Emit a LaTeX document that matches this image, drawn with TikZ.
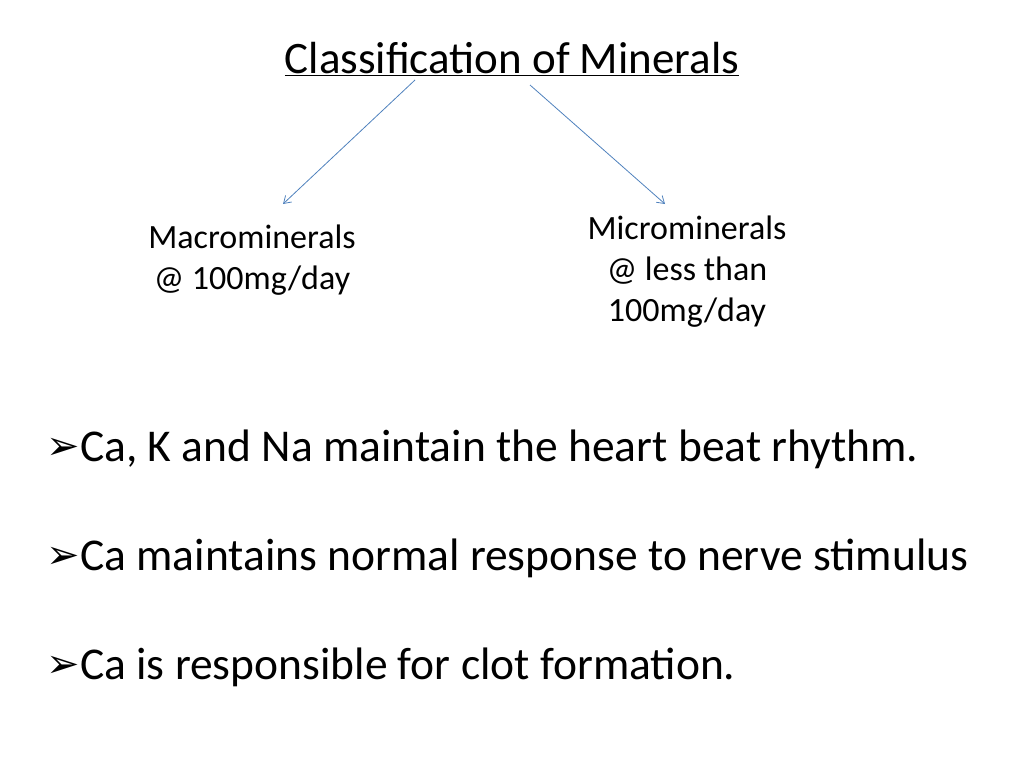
\documentclass[tikz,border=0pt]{standalone}
\usepackage{fontspec}
\setmainfont{Carlito}
\newfontfamily\dejavu{DejaVu Sans}
\usetikzlibrary{arrows.meta}
\begin{document}
\begin{tikzpicture}[x=1pt,y=-1pt,
  title/.style={font=\fontsize{45}{50}\selectfont,inner sep=0pt},
  sub/.style={font=\fontsize{34}{41}\selectfont,align=center,inner sep=0pt},
  bul/.style={font=\fontsize{45.5}{52}\selectfont,anchor=base west,inner sep=0pt},
  conn/.style={draw={rgb,255:red,79;green,129;blue,189},line width=0.8pt,-{Straight Barb[length=7pt,width=9pt]}}]
\useasboundingbox (0,0) rectangle (1024,768);
\node[title,anchor=base] (t) at (512,73) {\underline{Classification of Minerals}};
\coordinate (a1) at (415,80);
\coordinate (b1) at (530,85);
\node[sub] (mac) at (252,260) {Macrominerals\\ @ 100mg/day};
\node[sub] (mic) at (687,272) {Microminerals\\@ less than\\100mg/day};
\coordinate (a2) at (283,204);
\coordinate (b2) at (665,204);
\draw[conn] (a1) -- (a2);
\draw[conn] (b1) -- (b2);
\node[bul] (p1) at (80,461) {Ca, K and Na maintain the heart beat rhythm.};
\node[bul] (p2) at (80,570) {Ca maintains normal response to nerve stimulus};
\node[bul] (p3) at (80,679) {Ca is responsible for clot formation.};
\foreach \y/\n in {461/q1,570/q2,679/q3}
  \node[font=\dejavu\fontsize{40}{44}\selectfont,anchor=base west,inner sep=0pt] (\n) at (46,\y-2) {➢};
\end{tikzpicture}
\end{document}
